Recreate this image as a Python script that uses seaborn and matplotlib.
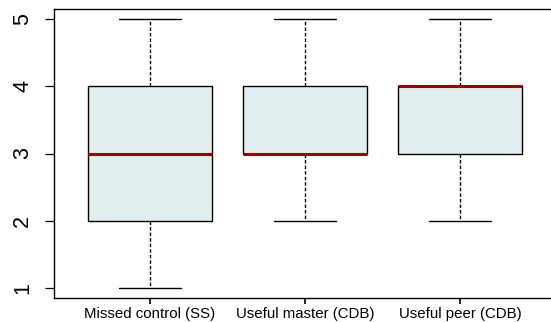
import matplotlib
matplotlib.use("Agg")
import matplotlib.pyplot as plt
import seaborn as sns
import pandas as pd

# Likert responses (1-5) for each question
categories = ["Missed control (SS)", "Useful master (CDB)", "Useful peer (CDB)"]
missed_control = [1, 2, 2, 3, 3, 3, 4, 4, 5]
useful_master = [2, 3, 3, 3, 3, 4, 4, 5, 5]
useful_peer = [2, 3, 3, 4, 4, 4, 4, 5, 5]
y_ticks = [1, 2, 3, 4, 5]

rows = []
for cat, vals in zip(categories, [missed_control, useful_master, useful_peer]):
    rows += [(cat, v) for v in vals]
df = pd.DataFrame(rows, columns=["question", "score"])

sns.set_style("white")
plt.rcParams["font.family"] = ["Liberation Sans", "DejaVu Sans"]

fig = plt.figure(figsize=(5.51, 3.22), dpi=100)
ax = fig.add_axes([54 / 551, 1 - 298 / 322, 502 / 551, 289 / 322])

sns.boxplot(
    data=df, x="question", y="score", order=categories, ax=ax,
    color="#E0EEEE", linecolor="black", linewidth=1.0, width=0.8,
    saturation=1, whis=1.5, showfliers=False,
    medianprops={"color": "#9B0000", "linewidth": 2.2},
    whiskerprops={"linestyle": (0, (2.5, 1.5))},
)

ax.set_xlim(-0.619, 2.619)
ax.set_ylim(0.851, 5.149)
ax.set_yticks(y_ticks)
ax.set_yticklabels([str(t) for t in y_ticks], rotation=90, va="center")
ax.set_xlabel("")
ax.set_ylabel("")

for s in ax.spines.values():
    s.set_visible(True)
    s.set_color("black")
    s.set_linewidth(1.0)

ax.tick_params(axis="y", left=True, length=6.5, width=0.9, pad=8.5,
               labelsize=15.5, colors="black")
ax.tick_params(axis="x", bottom=True, length=4.3, width=1.2, pad=2.5,
               labelsize=10.8, colors="black")

fig.savefig("out.png", dpi=100)
